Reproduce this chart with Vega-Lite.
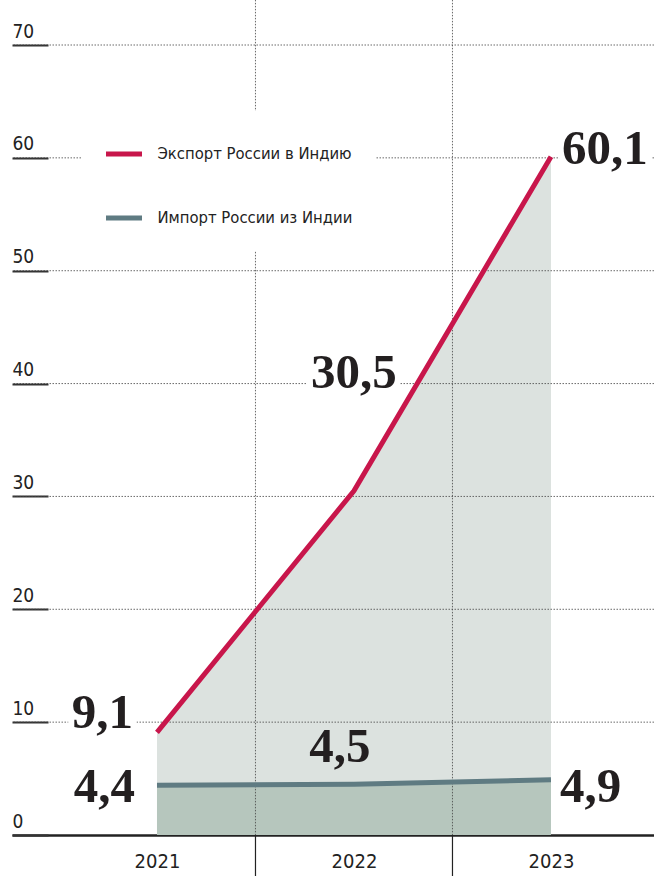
{
  "$schema": "https://vega.github.io/schema/vega-lite/v6.json",
  "autosize": {"type": "none"},
  "width": 642,
  "height": 790,
  "padding": {"left": 12, "top": 45, "right": 0, "bottom": 41},
  "background": "white",
  "config": {
    "view": {"stroke": null},
    "font": "DejaVu Sans Condensed, Roboto",
    "axis": {"labelFont": "DejaVu Sans Condensed, Roboto", "labelColor": "#222222"},
    "legend": {"labelFont": "DejaVu Sans Condensed, Roboto"},
    "text": {"font": "Liberation Serif", "fontWeight": "bold", "fontSize": 49, "color": "#231f20", "baseline": "alphabetic"}
  },
  "datasets": {
    "main": [
      {"year": 2021, "series": "Экспорт России в Индию", "value": 9.1, "label": "9,1"},
      {"year": 2022, "series": "Экспорт России в Индию", "value": 30.5, "label": "30,5"},
      {"year": 2023, "series": "Экспорт России в Индию", "value": 60.1, "label": "60,1"},
      {"year": 2021, "series": "Импорт России из Индии", "value": 4.4, "label": "4,4"},
      {"year": 2022, "series": "Импорт России из Индии", "value": 4.5, "label": "4,5"},
      {"year": 2023, "series": "Импорт России из Индии", "value": 4.9, "label": "4,9"}
    ],
    "grid": [{"value": 10}, {"value": 20}, {"value": 30}, {"value": 40}, {"value": 50}, {"value": 60}, {"value": 70}],
    "dividers": [{"year": 2021.5}, {"year": 2022.5}]
  },
  "layer": [
    {
      "data": {"name": "main"},
      "transform": [{"filter": "datum.series == 'Экспорт России в Индию'"}],
      "mark": {"type": "area", "color": "#dce2df"},
      "encoding": {
        "x": {"field": "year", "type": "quantitative", "scale": {"domain": [2020.264, 2023.523], "nice": false, "zero": false},
          "axis": {"values": [2021, 2022, 2023], "format": "d", "title": null, "grid": false, "ticks": false, "domain": true, "domainColor": "#222222", "domainWidth": 2.6, "labelFontSize": 20, "labelPadding": 16, "labelFlush": false, "labelOverlap": false}},
        "y": {"field": "value", "type": "quantitative", "scale": {"domain": [0, 70], "nice": false},
          "axis": {"values": [0, 10, 20, 30, 40, 50, 60, 70], "title": null, "grid": false, "domain": false, "offset": -36, "ticks": true, "tickSize": 36, "tickWidth": 2, "tickColor": "#333333", "labelAlign": "left", "labelBaseline": "alphabetic", "labelPadding": 0, "labelOffset": -8, "labelFontSize": 19}}
      }
    },
    {
      "data": {"name": "main"},
      "transform": [{"filter": "datum.series == 'Импорт России из Индии'"}],
      "mark": {"type": "area", "color": "#b6c6bd"},
      "encoding": {
        "x": {"field": "year", "type": "quantitative", "title": null},
        "y": {"field": "value", "type": "quantitative", "title": null}
      }
    },
    {
      "data": {"name": "grid"},
      "mark": {"type": "rule", "color": "#444444", "strokeWidth": 0.8, "strokeDash": [1.5, 1.5]},
      "encoding": {"y": {"field": "value", "type": "quantitative", "title": null}}
    },
    {
      "data": {"name": "dividers"},
      "mark": {"type": "rule", "color": "#444444", "strokeWidth": 0.8, "strokeDash": [1.5, 1.5]},
      "encoding": {
        "x": {"field": "year", "type": "quantitative", "title": null},
        "y": {"datum": 74},
        "y2": {"datum": 0}
      }
    },
    {
      "data": {"name": "dividers"},
      "mark": {"type": "rule", "color": "#222222", "strokeWidth": 1.2},
      "encoding": {
        "x": {"field": "year", "type": "quantitative", "title": null},
        "y": {"datum": 0},
        "y2": {"datum": -3.8}
      }
    },
    {
      "data": {"name": "main"},
      "mark": {"type": "line", "strokeWidth": 5, "strokeCap": "butt"},
      "encoding": {
        "x": {"field": "year", "type": "quantitative", "title": null},
        "y": {"field": "value", "type": "quantitative", "title": null},
        "color": {"field": "series", "type": "nominal",
          "scale": {"domain": ["Экспорт России в Индию", "Импорт России из Индии"], "range": ["#c8164b", "#5f7b82"]},
          "legend": {"title": null, "orient": "none", "legendX": 69, "legendY": 66, "fillColor": "white", "padding": 22.5,
            "symbolType": "stroke", "symbolSize": 1296, "symbolStrokeWidth": 5, "symbolOffset": 0,
            "labelFontSize": 16.5, "labelColor": "#222222", "labelOffset": 13, "rowPadding": 33, "labelLimit": 400}}
      }
    },
    {
      "data": {"name": "main"},
      "transform": [{"filter": "datum.year == 2021 && datum.series == 'Экспорт России в Индию'"}],
      "mark": {"type": "text", "align": "right", "dx": -24, "dy": -4, "stroke": "white", "strokeWidth": 12, "color": "white"},
      "encoding": {"x": {"field": "year", "type": "quantitative", "title": null}, "y": {"field": "value", "type": "quantitative", "title": null}, "text": {"field": "label"}}
    },
    {
      "data": {"name": "main"},
      "transform": [{"filter": "datum.year == 2021 && datum.series == 'Экспорт России в Индию'"}],
      "mark": {"type": "text", "align": "right", "dx": -24, "dy": -4},
      "encoding": {"x": {"field": "year", "type": "quantitative", "title": null}, "y": {"field": "value", "type": "quantitative", "title": null}, "text": {"field": "label"}}
    },
    {
      "data": {"name": "main"},
      "transform": [{"filter": "datum.year == 2021 && datum.series == 'Импорт России из Индии'"}],
      "mark": {"type": "text", "align": "right", "dx": -22, "dy": 17},
      "encoding": {"x": {"field": "year", "type": "quantitative", "title": null}, "y": {"field": "value", "type": "quantitative", "title": null}, "text": {"field": "label"}}
    },
    {
      "data": {"name": "main"},
      "transform": [{"filter": "datum.year == 2022 && datum.series == 'Экспорт России в Индию'"}],
      "mark": {"type": "text", "align": "center", "dx": 0, "dy": -103, "stroke": "white", "strokeWidth": 12, "color": "white"},
      "encoding": {"x": {"field": "year", "type": "quantitative", "title": null}, "y": {"field": "value", "type": "quantitative", "title": null}, "text": {"field": "label"}}
    },
    {
      "data": {"name": "main"},
      "transform": [{"filter": "datum.year == 2022 && datum.series == 'Экспорт России в Индию'"}],
      "mark": {"type": "text", "align": "center", "dx": 0, "dy": -103},
      "encoding": {"x": {"field": "year", "type": "quantitative", "title": null}, "y": {"field": "value", "type": "quantitative", "title": null}, "text": {"field": "label"}}
    },
    {
      "data": {"name": "main"},
      "transform": [{"filter": "datum.year == 2022 && datum.series == 'Импорт России из Индии'"}],
      "mark": {"type": "text", "align": "center", "dx": -14, "dy": -22},
      "encoding": {"x": {"field": "year", "type": "quantitative", "title": null}, "y": {"field": "value", "type": "quantitative", "title": null}, "text": {"field": "label"}}
    },
    {
      "data": {"name": "main"},
      "transform": [{"filter": "datum.year == 2023 && datum.series == 'Экспорт России в Индию'"}],
      "mark": {"type": "text", "align": "left", "dx": 11, "dy": 7, "stroke": "white", "strokeWidth": 12, "color": "white"},
      "encoding": {"x": {"field": "year", "type": "quantitative", "title": null}, "y": {"field": "value", "type": "quantitative", "title": null}, "text": {"field": "label"}}
    },
    {
      "data": {"name": "main"},
      "transform": [{"filter": "datum.year == 2023 && datum.series == 'Экспорт России в Индию'"}],
      "mark": {"type": "text", "align": "left", "dx": 11, "dy": 7},
      "encoding": {"x": {"field": "year", "type": "quantitative", "title": null}, "y": {"field": "value", "type": "quantitative", "title": null}, "text": {"field": "label"}}
    },
    {
      "data": {"name": "main"},
      "transform": [{"filter": "datum.year == 2023 && datum.series == 'Импорт России из Индии'"}],
      "mark": {"type": "text", "align": "left", "dx": 9, "dy": 22},
      "encoding": {"x": {"field": "year", "type": "quantitative", "title": null}, "y": {"field": "value", "type": "quantitative", "title": null}, "text": {"field": "label"}}
    }
  ]
}
